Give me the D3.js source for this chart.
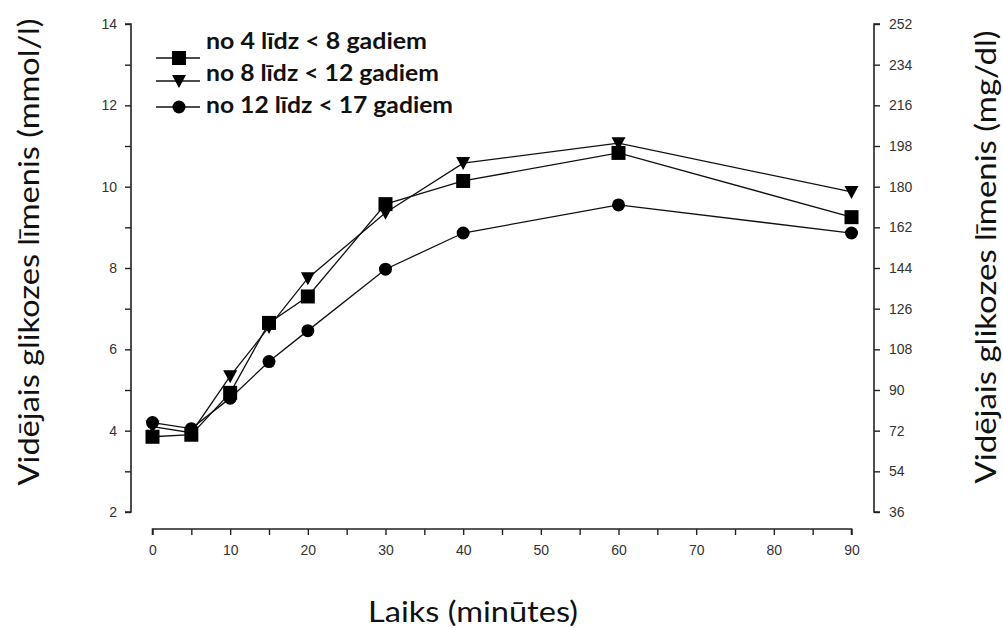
<!DOCTYPE html>
<meta charset="utf-8">
<style>
  body { margin: 0; background: #fff; }
</style>
<body>
<!-- the chart goes here -->
<div id="chart"></div>

<script src="https://d3js.org/d3.v7.min.js"></script>
<script>
// minutes after the start
var minutes = [0, 5, 10, 15, 20, 30, 40, 60, 90];

// mean glucose, mmol/l
var group4to8 = [3.85, 3.9, 4.93, 6.65, 7.3, 9.57, 10.14, 10.83, 9.25];
var group8to12 = [4.1, 3.95, 5.34, 6.55, 7.75, 9.36, 10.58, 11.07, 9.87];
var group12to17 = [4.2, 4.05, 4.8, 5.7, 6.46, 7.97, 8.86, 9.55, 8.86];

var seriesNames = ["no 4 līdz < 8 gadiem", "no 8 līdz < 12 gadiem", "no 12 līdz < 17 gadiem"];
var seriesValues = [group4to8, group8to12, group12to17];
var seriesShapes = ["square", "triangle", "circle"];

var leftTicks = [2, 4, 6, 8, 10, 12, 14];
var rightTicks = [36, 54, 72, 90, 108, 126, 144, 162, 180, 198, 216, 234, 252];
var xTicks = [0, 10, 20, 30, 40, 50, 60, 70, 80, 90];

var width = 1003, height = 628;

var svg = d3.select("#chart")
  .append("svg")
    .attr("width", width)
    .attr("height", height);

// scales
var x = d3.scaleLinear().domain([0, 90]).range([152.5, 851.5]);
var y = d3.scaleLinear().domain([2, 14]).range([512, 24]);
var y2 = d3.scaleLinear().domain([36, 252]).range([512, 24]);

var tickFont = "'Liberation Sans', Arial, sans-serif";
var titleFont = "Lato, 'Open Sans', sans-serif";

// left axis, minor ticks on the odd values
var leftAxis = svg.append("g")
  .attr("transform", "translate(131,0)")
  .call(d3.axisLeft(y).tickValues(d3.range(2, 14.01, 1)).tickSize(6).tickPadding(8)
    .tickFormat(function(d) { return leftTicks.indexOf(d) >= 0 ? d : ""; }));

// right axis
var rightAxis = svg.append("g")
  .attr("transform", "translate(874,0)")
  .call(d3.axisRight(y2).tickValues(rightTicks).tickSize(6).tickPadding(9));

// bottom axis, minor ticks every 5
var bottomAxis = svg.append("g")
  .attr("transform", "translate(0,529)")
  .call(d3.axisBottom(x).tickValues(d3.range(0, 90.01, 5)).tickSize(6).tickPadding(10)
    .tickFormat(function(d) { return xTicks.indexOf(d) >= 0 ? d : ""; }));

[leftAxis, rightAxis, bottomAxis].forEach(function(g) {
  g.select(".domain").attr("stroke", "#222").attr("stroke-width", 1.6);
  g.selectAll(".tick line").attr("stroke", "#222").attr("stroke-width", 1.4);
  g.selectAll(".tick text")
    .attr("fill", "#333")
    .style("font-family", tickFont)
    .style("font-size", "14px");
});
// no end ticks beyond the domain line
leftAxis.select(".domain").attr("d", "M-6," + y(14) + "H0V" + y(2) + "H-6");
rightAxis.select(".domain").attr("d", "M6," + y2(252) + "H0V" + y2(36) + "H6");
bottomAxis.select(".domain").attr("d", "M" + x(0) + ",6V0H" + x(90) + "V6");

// lines
var line = d3.line()
  .x(function(d, i) { return x(minutes[i]); })
  .y(function(d) { return y(d); });

svg.selectAll(".series")
  .data(seriesValues)
  .enter()
  .append("path")
    .attr("d", line)
    .attr("fill", "none")
    .attr("stroke", "#111")
    .attr("stroke-width", 1.3);

function drawMarker(g, shape) {
  if (shape == "square") {
    g.append("rect").attr("x", -7).attr("y", -7).attr("width", 14).attr("height", 14).attr("fill", "#000");
  } else if (shape == "triangle") {
    g.append("path").attr("d", "M-7,-6L7,-6L0,7Z").attr("fill", "#000");
  } else {
    g.append("circle").attr("r", 6.5).attr("fill", "#000");
  }
}

// markers
seriesValues.forEach(function(vals, s) {
  vals.forEach(function(v, i) {
    var g = svg.append("g").attr("transform", "translate(" + x(minutes[i]) + "," + y(v) + ")");
    drawMarker(g, seriesShapes[s]);
  });
});

// legend
var legendTextY = [49, 81, 113];
var legendMarkY = [58, 81, 107];
var legendWidth = [221, 233, 247];
seriesNames.forEach(function(name, i) {
  svg.append("line")
    .attr("x1", 156).attr("x2", 200)
    .attr("y1", legendMarkY[i]).attr("y2", legendMarkY[i])
    .attr("stroke", "#111").attr("stroke-width", 1.5);
  var g = svg.append("g").attr("transform", "translate(179," + legendMarkY[i] + ")");
  drawMarker(g, seriesShapes[i]);
  svg.append("text")
    .attr("x", 206).attr("y", legendTextY[i])
    .attr("textLength", legendWidth[i]).attr("lengthAdjust", "spacingAndGlyphs")
    .style("font-family", titleFont)
    .style("font-weight", "bold")
    .style("font-size", "23px")
    .attr("fill", "#111")
    .text(name);
});

// axis titles
svg.append("text")
  .attr("transform", "translate(39,252) rotate(-90)")
  .attr("text-anchor", "middle")
  .attr("textLength", 467).attr("lengthAdjust", "spacingAndGlyphs")
  .style("font-family", titleFont)
  .style("font-size", "29px")
  .attr("fill", "#111")
  .text("Vidējais glikozes līmenis (mmol/l)");

svg.append("text")
  .attr("transform", "translate(996,257) rotate(-90)")
  .attr("text-anchor", "middle")
  .attr("textLength", 453).attr("lengthAdjust", "spacingAndGlyphs")
  .style("font-family", titleFont)
  .style("font-size", "29px")
  .attr("fill", "#111")
  .text("Vidējais glikozes līmenis (mg/dl)");

svg.append("text")
  .attr("x", 473).attr("y", 622)
  .attr("text-anchor", "middle")
  .attr("textLength", 210).attr("lengthAdjust", "spacingAndGlyphs")
  .style("font-family", titleFont)
  .style("font-size", "29px")
  .attr("fill", "#111")
  .text("Laiks (minūtes)");
</script>
</body>
